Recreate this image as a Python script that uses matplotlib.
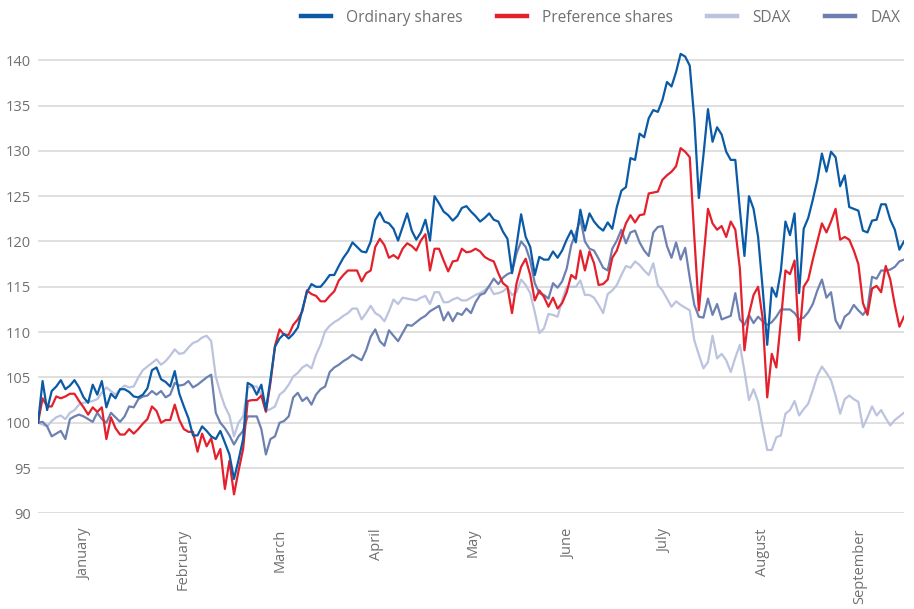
import numpy as np
import matplotlib
matplotlib.use("Agg")
import matplotlib.pyplot as plt
from matplotlib.lines import Line2D

plt.rcParams['font.family'] = ['Open Sans', 'DejaVu Sans']

# Indexed share price performance, start of January = 100 (one value per trading day)
ordinary = [
    100, 104.6, 101.4, 103.5, 104.0, 104.7, 103.7, 104.1, 104.7, 103.9,
    102.8, 102.2, 104.2, 103.1, 104.6, 101.7, 103.2, 102.7, 103.7, 103.7,
    103.4, 102.9, 102.8, 103.1, 103.8, 105.8, 106.1, 104.8, 104.5, 104.0,
    105.7, 103.2, 101.8, 100.5, 98.6, 98.6, 99.6, 99.1, 98.5, 98.2,
    99.1, 97.8, 96.5, 93.8, 95.9, 98.2, 104.4, 104.1, 103.1, 104.2,
    101.4, 104.8, 108.4, 109.3, 109.8, 109.3, 109.8, 110.5, 112.5, 114.4,
    115.3, 115.0, 115.0, 115.6, 116.3, 116.3, 117.3, 118.2, 118.9, 119.9,
    119.4, 118.9, 118.8, 120.0, 122.4, 123.2, 122.2, 122.0, 121.4, 120.1,
    121.6, 123.1, 121.2, 120.2, 121.0, 122.4, 120.1, 125.0, 124.2, 123.3,
    122.9, 122.3, 122.8, 123.7, 123.9, 123.3, 122.8, 122.2, 122.6, 123.1,
    122.4, 122.2, 121.1, 120.3, 116.5, 119.6, 123.0, 120.5, 119.4, 116.3,
    118.3, 118.0, 118.0, 118.9, 118.2, 119.0, 120.2, 121.2, 119.9, 123.5,
    121.2, 123.1, 122.2, 121.6, 121.2, 122.1, 121.4, 123.8, 125.6, 126.0,
    129.2, 129.0, 131.9, 131.5, 133.6, 134.5, 134.3, 135.6, 137.6, 137.1,
    138.7, 140.7, 140.4, 139.4, 133.5, 124.8, 129.5, 134.6, 131.0, 132.6,
    131.8, 129.9, 129.0, 129.0, 123.5, 118.4, 125.0, 123.6, 120.5, 114.8,
    108.6, 114.9, 113.9, 116.8, 122.2, 120.7, 123.1, 114.3, 121.4, 122.6,
    124.6, 126.8, 129.7, 127.7, 129.9, 129.3, 126.1, 127.3, 123.8, 123.6,
    123.4, 121.2, 121.0, 122.3, 122.4, 124.1, 124.1, 122.4, 121.3, 119.1, 120.0,
]

preference = [
    100, 102.7, 101.8, 101.8, 102.9, 102.7, 102.9, 103.2, 103.2, 102.4,
    101.7, 100.9, 101.7, 101.2, 101.7, 98.2, 100.6, 99.4, 98.7, 98.7,
    99.3, 98.8, 99.3, 99.9, 100.4, 101.8, 101.3, 100.0, 100.3, 100.3,
    102.0, 100.3, 99.3, 99.0, 99.0, 96.8, 98.8, 97.4, 98.3, 96.0,
    97.1, 92.7, 95.8, 92.1, 94.7, 97.1, 102.4, 102.5, 102.5, 103.0,
    101.2, 104.4, 108.5, 110.3, 109.7, 109.7, 110.8, 111.4, 112.3, 114.6,
    114.2, 114.0, 113.4, 113.4, 114.0, 114.5, 115.7, 116.3, 116.8, 116.8,
    116.8, 115.6, 116.5, 116.8, 119.4, 120.3, 119.6, 118.2, 118.5, 118.1,
    119.2, 119.8, 119.5, 119.0, 120.1, 120.8, 116.8, 119.2, 119.2, 117.9,
    116.7, 117.8, 117.9, 119.2, 118.8, 118.9, 119.2, 118.9, 118.3, 118.0,
    117.8, 116.5, 115.4, 115.0, 112.1, 115.4, 117.2, 118.1, 116.3, 113.5,
    114.6, 113.9, 112.8, 113.8, 112.6, 113.2, 114.4, 116.3, 115.9, 119.0,
    116.8, 118.9, 117.6, 115.2, 115.3, 115.8, 118.2, 119.0, 120.5, 122.0,
    122.9, 122.1, 122.9, 123.0, 125.3, 125.4, 125.5, 126.8, 127.3, 127.7,
    128.3, 130.3, 129.9, 129.3, 120.5, 112.4, 118.0, 123.6, 122.0, 121.3,
    121.7, 120.5, 122.2, 121.3, 117.0, 108.0, 112.0, 114.1, 115.0, 111.5,
    102.8, 107.6, 106.1, 111.3, 116.8, 116.4, 117.9, 109.1, 115.0, 115.8,
    118.0, 120.0, 122.0, 121.0, 122.2, 123.6, 120.2, 120.5, 120.2, 119.0,
    117.5, 113.2, 111.9, 114.8, 115.1, 114.4, 117.3, 115.8, 113.0, 110.6, 111.7,
]

sdax = [
    100, 99.8, 99.6, 100.2, 100.6, 100.8, 100.4, 101.1, 101.4, 102.0,
    102.2, 102.3, 102.4, 102.6, 103.3, 103.9, 103.5, 103.1, 103.7, 104.1,
    103.9, 104.0, 105.0, 105.8, 106.2, 106.6, 107.0, 106.4, 106.8, 107.4,
    108.1, 107.6, 107.7, 108.3, 108.8, 109.0, 109.4, 109.6, 109.0, 105.1,
    103.3, 101.8, 100.8, 98.5, 100.0, 100.7, 103.9, 104.0, 104.0, 103.1,
    101.3, 101.5, 101.8, 103.1, 103.5, 104.2, 105.1, 105.5, 106.1, 106.4,
    106.0, 107.5, 108.6, 110.1, 110.7, 111.1, 111.4, 111.8, 112.1, 112.6,
    112.6, 111.4, 112.1, 112.9, 112.1, 111.8, 111.2, 112.3, 113.6, 113.1,
    113.8, 113.7, 113.6, 113.5, 113.8, 114.0, 113.1, 114.4, 114.4, 113.3,
    113.3, 113.6, 113.8, 113.5, 113.5, 113.8, 114.1, 114.3, 114.6, 115.1,
    114.2, 114.3, 114.5, 114.9, 114.1, 114.4, 115.8, 115.2, 114.3, 112.2,
    109.9, 110.4, 112.0, 111.9, 111.7, 113.5, 115.0, 115.0, 115.0, 115.7,
    114.1, 114.1, 113.8, 113.0, 112.1, 114.2, 114.6, 115.2, 116.3, 117.3,
    117.1, 117.8, 117.4, 116.8, 116.3, 117.6, 115.2, 114.6, 113.7, 112.8,
    113.4, 113.0, 112.7, 112.4, 109.1, 107.5, 106.0, 106.7, 109.6, 107.1,
    107.6, 106.9, 105.6, 107.2, 108.6, 105.7, 102.5, 103.7, 102.3, 99.5,
    97.0, 97.0, 98.4, 98.6, 101.0, 101.4, 102.4, 100.8, 101.5, 102.1,
    103.6, 105.2, 106.2, 105.5, 104.7, 103.0, 101.0, 102.6, 103.0, 102.6,
    102.3, 99.5, 100.6, 101.8, 100.8, 101.4, 100.5, 99.7, 100.3, 100.7, 101.1,
]

dax = [
    100, 100.1, 99.6, 98.5, 98.8, 99.1, 98.2, 100.4, 100.7, 100.9,
    100.7, 100.4, 100.1, 101.1, 100.4, 100.0, 101.1, 100.6, 100.1, 100.7,
    101.8, 101.7, 102.6, 102.9, 103.0, 103.5, 103.1, 103.5, 102.8, 103.1,
    104.4, 104.1, 104.2, 104.6, 103.9, 104.2, 104.6, 105.0, 105.3, 101.1,
    100.0, 99.4, 98.6, 97.6, 98.5, 99.1, 100.7, 100.7, 100.7, 99.3,
    96.5, 98.2, 98.5, 100.0, 100.2, 100.7, 102.8, 103.3, 102.4, 102.8,
    102.0, 103.1, 103.7, 104.0, 105.6, 106.1, 106.4, 106.8, 107.1, 107.5,
    107.2, 106.9, 108.0, 109.5, 110.3, 109.0, 108.5, 110.2, 109.6, 109.0,
    109.9, 110.8, 110.7, 111.1, 111.5, 111.8, 112.3, 112.6, 112.9, 111.3,
    112.2, 111.2, 112.1, 111.9, 112.6, 112.1, 113.3, 114.1, 114.3, 115.1,
    115.9, 115.3, 116.0, 116.4, 116.6, 118.7, 120.0, 119.4, 117.9, 115.4,
    114.3, 114.1, 113.7, 115.4, 114.9, 115.6, 117.0, 119.6, 120.9, 122.5,
    120.0, 119.2, 119.0, 118.1, 117.1, 116.8, 119.2, 120.1, 121.3, 119.8,
    121.0, 121.2, 119.9, 119.0, 118.4, 121.0, 121.6, 121.7, 119.5, 118.2,
    119.9, 118.0, 119.3, 116.0, 113.0, 111.7, 111.6, 113.7, 111.9, 113.1,
    111.4, 111.6, 111.8, 114.3, 111.4, 110.8, 111.9, 111.0, 111.7, 111.2,
    110.8, 111.1, 111.7, 112.5, 112.5, 112.5, 112.1, 111.4, 111.6, 112.2,
    113.1, 114.6, 115.8, 113.8, 114.4, 111.3, 110.4, 111.7, 112.1, 113.0,
    112.4, 111.9, 112.6, 116.1, 115.9, 116.8, 116.8, 116.9, 117.2, 117.8, 118.0,
]

months = ['January', 'February', 'March', 'April', 'May', 'June', 'July',
          'August', 'September']
month_mid = [10.3, 31.8, 53.1, 74.3, 95.4, 116.4, 137.5, 159.0, 180.3]

days = np.arange(len(ordinary))

fig = plt.figure(figsize=(9.14, 6.09), dpi=100)
ax = fig.add_axes([0.0416, 0.157, 0.9474, 0.759])

ax.plot(days, sdax, color='#bcc3de', lw=1.6, label='SDAX', zorder=2)
ax.plot(days, dax, color='#6c80b1', lw=1.6, label='DAX', zorder=3)
ax.plot(days, preference, color='#e3202b', lw=1.6, label='Preference shares', zorder=4)
ax.plot(days, ordinary, color='#0b5aa6', lw=1.6, label='Ordinary shares', zorder=5)

ax.set_xlim(0, len(ordinary) - 1)
ax.set_ylim(90, 141)
ax.set_yticks(range(90, 141, 5))
ax.set_xticks(month_mid)
ax.set_xticklabels(months, rotation=90)
ax.grid(axis='y', color='#dcdcdc', lw=1.3)
ax.set_axisbelow(True)
for s in ax.spines.values():
    s.set_visible(False)
ax.tick_params(axis='y', length=0, pad=5, labelsize=10.5, labelcolor='#707070')
ax.tick_params(axis='x', length=0, pad=11, labelsize=10.5, labelcolor='#707070')

handles = [Line2D([], [], color='#0b5aa6', lw=3.2),
           Line2D([], [], color='#e3202b', lw=3.2),
           Line2D([], [], color='#bcc3de', lw=3.2),
           Line2D([], [], color='#6c80b1', lw=3.2)]
labels = ['Ordinary shares', 'Preference shares', 'SDAX', 'DAX']
leg = fig.legend(handles, labels, loc='upper right', bbox_to_anchor=(0.985, 0.984),
                 ncol=4, frameon=False, fontsize=11.2, handlelength=1.9,
                 handletextpad=1.0, columnspacing=2.2, borderpad=0, borderaxespad=0)
for t in leg.get_texts():
    t.set_color('#707070')

fig.savefig('out.png', dpi=100)
